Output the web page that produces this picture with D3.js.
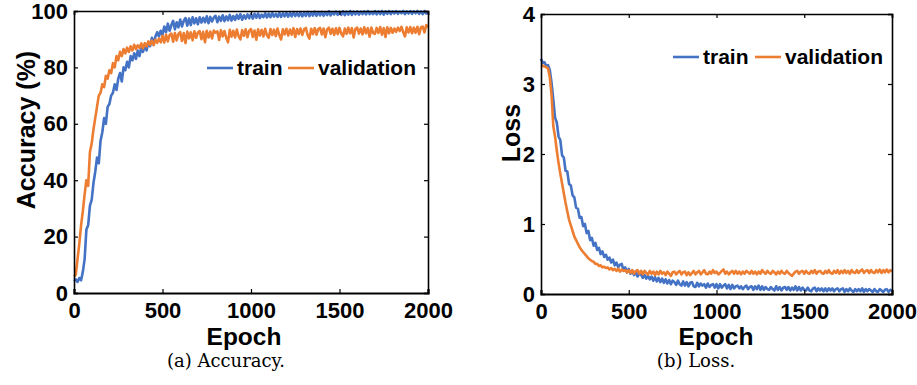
<!DOCTYPE html>
<html>
<head>
<meta charset="utf-8">
<script src="https://cdn.jsdelivr.net/npm/d3@7"></script>
<style>
  body { margin: 0; background: #fff; }
  svg text { font-family: "Liberation Sans", Arial, sans-serif; font-weight: bold; fill: #000; }
  svg text.caption { font-family: "DejaVu Serif", "Liberation Serif", serif; font-weight: normal; }
</style>
</head>
<body>
<div id="chart"></div>
<script>
// epochs 0..2000, one sample every 10 epochs
const epochs = d3.range(0, 2001, 10);

const accTrain = [
  4.2, 4.8, 3.9, 5.3, 4.5, 7.5, 12, 22.5, 24, 31,
  33, 39, 43, 48, 46, 54, 57, 62, 60, 66,
  67, 70, 71, 74, 72, 76, 78, 75, 80, 79,
  82, 80, 84, 82.5, 85, 83, 86, 84, 87, 85.5,
  88, 86, 89, 87.5, 90.5, 88, 91, 92.5, 91, 93,
  91.5, 94.5, 92.5, 95.5, 93, 95, 96.5, 93.5, 96, 94.2,
  97, 94.5, 96.5, 97.5, 94.8, 97.3, 95, 97.8, 95.6, 97.4,
  95.3, 97.8, 95.9, 97.6, 96, 98.1, 95.7, 97.9, 96.3, 97.7,
  98.3, 96, 98, 96.5, 98.5, 96.4, 98.1, 96.7, 98.6, 96.6,
  98.2, 96.8, 98.6, 97.2, 98.9, 96.9, 98.5, 97.3, 98.8, 97.4,
  98.9, 97.3, 99, 97.6, 99.1, 97.5, 98.7, 97.8, 99.2, 97.7,
  99.1, 97.8, 99.3, 98, 99, 97.9, 99.4, 97.9, 99.2, 98.1,
  99.5, 98, 99.3, 98.1, 99.6, 98.2, 99.3, 98.2, 99.5, 98.1,
  99.4, 98.3, 99.7, 98.2, 99.5, 98.4, 99.8, 98.3, 99.6, 98.4,
  99.7, 98.3, 99.6, 98.5, 99.9, 98.4, 99.6, 98.8, 99.8, 98.6,
  99.7, 98.6, 99.9, 98.5, 99.8, 98.7, 100, 98.6, 99.8, 98.8,
  99.9, 98.7, 99.8, 98.9, 99.9, 98.8, 100, 98.9, 99.7, 98.9,
  100, 98.8, 99.9, 98.9, 100, 98.7, 99.9, 99, 100, 98.9,
  99.9, 99.1, 100, 99, 99.8, 99.2, 100, 98.9, 99.9, 99.1,
  100, 99, 99.9, 99.2, 100, 99, 99.9, 98.9, 100, 99.1,
  99.6
];

const accVal = [
  5.8, 6.5, 12, 17.5, 24, 29, 35, 40, 38, 50,
  53, 58, 62, 66, 70, 71, 74, 73, 77, 76,
  79, 78, 81.5, 80, 84, 82.5, 85.5, 84, 86.5, 85,
  87, 85.5, 87.5, 86, 88, 86.5, 87.8, 87, 88.5, 86.8,
  88.6, 87.5, 89.2, 88, 89.5, 87.9, 89.8, 88.7, 90.2, 88.9,
  91.2, 88.8, 91.6, 89.2, 91.5, 92, 89.1, 92.2, 89.6, 91.9,
  92.5, 89.4, 92.2, 88.6, 92.7, 90.3, 92.4, 89.6, 92.8, 90.5,
  92.4, 92.9, 90, 92.6, 88.9, 93, 90.6, 92.7, 90.3, 93.1,
  92.3, 92.8, 89.7, 93.2, 91, 92.9, 90.5, 88.9, 93.3, 90.9,
  93, 90.6, 93.4, 91.1, 89.9, 93.2, 91.2, 93.5, 90.7, 93,
  93.6, 90.8, 93.1, 89.8, 93.5, 91.3, 93.3, 91, 93.7, 91.4,
  90.5, 93.6, 91.5, 93.4, 91.1, 93.8, 91.4, 89.9, 93.5, 91.7,
  93.7, 91.3, 93.4, 91.6, 93.9, 90.8, 93.6, 91.8, 93.8, 91.5,
  93.5, 94, 91.4, 90.2, 93.7, 91.8, 93.9, 91.6, 93.6, 94,
  91.7, 93.8, 90.7, 93.5, 94.1, 91.9, 93.7, 91.5, 93.9, 91.8,
  94, 92, 91, 93.8, 91.9, 94.1, 92.1, 93.9, 90.6, 93.7,
  94.1, 92, 93.8, 91.7, 94.2, 92.1, 93.9, 90.9, 94.1, 92.2,
  91.9, 94, 92.2, 94.3, 91.6, 93.9, 90.8, 94.2, 92.1, 94,
  92.3, 93.8, 92.6, 94.1, 92.9, 94.4, 92.5, 91, 94.2, 92.4,
  94.3, 92.1, 94.1, 92.3, 94.4, 91.8, 94.2, 94.5, 92.4, 95,
  94.3
];

const lossTrain = [
  3.36, 3.30, 3.31, 3.26, 3.27, 3.2, 3.02, 2.78, 2.52, 2.45,
  2.25, 2.2, 1.98, 1.95, 1.76, 1.75, 1.57, 1.55, 1.41, 1.38,
  1.23, 1.22, 1.09, 1.1, 0.97, 1.0, 0.87, 0.9, 0.77, 0.8,
  0.69, 0.73, 0.63, 0.66, 0.57, 0.61, 0.53, 0.56, 0.49, 0.52,
  0.45, 0.49, 0.41, 0.45, 0.38, 0.42, 0.43, 0.34, 0.38, 0.31,
  0.36, 0.29, 0.33, 0.27, 0.32, 0.25, 0.29, 0.28, 0.23, 0.27,
  0.22, 0.26, 0.21, 0.25, 0.19, 0.24, 0.18, 0.23, 0.17, 0.22,
  0.16, 0.21, 0.15, 0.2, 0.14, 0.19, 0.17, 0.13, 0.19, 0.14,
  0.12, 0.18, 0.12, 0.17, 0.11, 0.16, 0.17, 0.11, 0.1, 0.16,
  0.11, 0.15, 0.12, 0.14, 0.09, 0.15, 0.1, 0.13, 0.14, 0.09,
  0.14, 0.08, 0.14, 0.09, 0.12, 0.14, 0.08, 0.13, 0.07, 0.13,
  0.08, 0.11, 0.12, 0.08, 0.11, 0.07, 0.1, 0.12, 0.07, 0.1,
  0.11, 0.06, 0.11, 0.07, 0.12, 0.06, 0.11, 0.06, 0.1, 0.07,
  0.06, 0.1, 0.07, 0.05, 0.11, 0.06, 0.1, 0.05, 0.09, 0.1,
  0.06, 0.1, 0.05, 0.09, 0.06, 0.11, 0.05, 0.1, 0.05, 0.09,
  0.06, 0.05, 0.09, 0.05, 0.04, 0.08, 0.09, 0.04, 0.08, 0.05,
  0.08, 0.04, 0.08, 0.04, 0.08, 0.05, 0.08, 0.04, 0.07, 0.08,
  0.04, 0.07, 0.08, 0.03, 0.07, 0.04, 0.08, 0.05, 0.03, 0.07,
  0.04, 0.07, 0.04, 0.08, 0.03, 0.07, 0.04, 0.07, 0.05, 0.03,
  0.07, 0.04, 0.03, 0.07, 0.05, 0.03, 0.06, 0.07, 0.03, 0.06,
  0.05
];

const lossVal = [
  3.27, 3.26, 3.25, 3.24, 3.22, 3.1, 2.85, 2.4, 2.25, 2.05,
  1.87, 1.72, 1.58, 1.44, 1.3, 1.18, 1.06, 0.98, 0.9, 0.82,
  0.77, 0.72, 0.67, 0.63, 0.6, 0.57, 0.54, 0.51, 0.49, 0.47,
  0.46, 0.43, 0.43, 0.4, 0.41, 0.38, 0.39, 0.37, 0.38, 0.35,
  0.37, 0.34, 0.36, 0.33, 0.36, 0.32, 0.35, 0.33, 0.34, 0.31,
  0.34, 0.3, 0.34, 0.29, 0.33, 0.34, 0.29, 0.33, 0.28, 0.33,
  0.3, 0.28, 0.33, 0.29, 0.32, 0.27, 0.32, 0.28, 0.33, 0.29,
  0.31, 0.27, 0.32, 0.29, 0.26, 0.31, 0.32, 0.28, 0.31, 0.33,
  0.28, 0.31, 0.32, 0.27, 0.31, 0.27, 0.3, 0.33, 0.28, 0.31,
  0.33, 0.28, 0.31, 0.34, 0.29, 0.28, 0.32, 0.29, 0.34, 0.3,
  0.32, 0.28, 0.3, 0.33, 0.35, 0.29, 0.32, 0.28, 0.31, 0.33,
  0.29, 0.33, 0.29, 0.32, 0.28, 0.32, 0.29, 0.33, 0.31, 0.29,
  0.33, 0.29, 0.32, 0.28, 0.32, 0.29, 0.34, 0.31, 0.29, 0.33,
  0.3, 0.29, 0.33, 0.31, 0.28, 0.32, 0.29, 0.33, 0.3, 0.29,
  0.33, 0.3, 0.28, 0.26, 0.29, 0.32, 0.33, 0.29, 0.32, 0.33,
  0.29, 0.33, 0.3, 0.29, 0.33, 0.3, 0.34, 0.29, 0.32, 0.33,
  0.3, 0.29, 0.33, 0.3, 0.34, 0.3, 0.29, 0.33, 0.3, 0.34,
  0.29, 0.33, 0.3, 0.34, 0.3, 0.33, 0.29, 0.34, 0.31, 0.3,
  0.34, 0.3, 0.33, 0.35, 0.3, 0.33, 0.34, 0.3, 0.34, 0.31,
  0.3, 0.34, 0.31, 0.35, 0.3, 0.34, 0.31, 0.35, 0.31, 0.34,
  0.32
];

const xTicks = [0, 500, 1000, 1500, 2000];
const accTicks = [0, 20, 40, 60, 80, 100];
const lossTicks = [0, 1, 2, 3, 4];
const seriesNames = ["train", "validation"];
const colors = ["#4472C4", "#ED7D31"];

const svg = d3.select("#chart").append("svg")
  .attr("width", 917)
  .attr("height", 385);

function drawPanel(opts) {
  const x = d3.scaleLinear().domain([0, 2000]).range([opts.left, opts.right]);
  const y = d3.scaleLinear().domain(opts.yDomain).range([opts.bottom, opts.top]);
  const g = svg.append("g");

  // lines
  opts.series.forEach((vals, i) => {
    const line = d3.line()
      .x((d, j) => x(epochs[j]))
      .y(d => y(d));
    g.append("path")
      .datum(vals)
      .attr("fill", "none")
      .attr("stroke", colors[i])
      .attr("stroke-width", 2.6)
      .attr("stroke-linejoin", "round")
      .attr("d", line);
  });

  // axes, ticks pointing inward, mirrored on top and right
  const bottomAxis = g.append("g")
    .attr("transform", "translate(0," + opts.bottom + ")")
    .call(d3.axisBottom(x).tickValues(xTicks).tickSize(-4).tickPadding(9).tickFormat(d3.format("d")));
  const leftAxis = g.append("g")
    .attr("transform", "translate(" + opts.left + ",0)")
    .call(d3.axisLeft(y).tickValues(opts.yTicks).tickSize(-4).tickPadding(6).tickFormat(d3.format("d")));
  const topAxis = g.append("g")
    .attr("transform", "translate(0," + opts.top + ")")
    .call(d3.axisTop(x).tickValues(xTicks).tickSize(-4).tickFormat(""));
  const rightAxis = g.append("g")
    .attr("transform", "translate(" + opts.right + ",0)")
    .call(d3.axisRight(y).tickValues(opts.yTicks).tickSize(-4).tickFormat(""));

  [bottomAxis, leftAxis, topAxis, rightAxis].forEach(a => {
    a.select(".domain").attr("stroke", "#000").attr("stroke-width", 1.6);
    a.selectAll(".tick line").attr("stroke", "#000").attr("stroke-width", 1.2);
  });
  bottomAxis.select(".domain").attr("stroke-width", 2.2);
  bottomAxis.selectAll(".tick text").style("font-size", "22px").attr("dy", "0.71em");
  leftAxis.selectAll(".tick text").style("font-size", "22px");

  // axis labels
  g.append("text")
    .attr("x", opts.xLabelX)
    .attr("y", 345)
    .attr("text-anchor", "middle")
    .style("font-size", "24.5px")
    .text("Epoch");
  g.append("text")
    .attr("transform", "translate(" + opts.yLabelX + "," + opts.yLabelY + ") rotate(-90)")
    .attr("text-anchor", "middle")
    .style("font-size", "25px")
    .text(opts.yLabel);

  // legend
  seriesNames.forEach((name, i) => {
    const lx = opts.legendX[i];
    g.append("line")
      .attr("x1", lx).attr("x2", lx + 26)
      .attr("y1", opts.legendY).attr("y2", opts.legendY)
      .attr("stroke", colors[i])
      .attr("stroke-width", 2.6);
    g.append("text")
      .attr("x", lx + 30)
      .attr("y", opts.legendY + 7)
      .style("font-size", "21px")
      .text(name);
  });

  // caption
  g.append("text")
    .attr("class", "caption")
    .attr("x", opts.captionX)
    .attr("y", 367)
    .attr("text-anchor", "middle")
    .style("font-size", "18px")
    .text(opts.caption);
}

drawPanel({
  left: 74, right: 428, top: 11, bottom: 293,
  yDomain: [0, 100], yTicks: accTicks,
  series: [accTrain, accVal],
  yLabel: "Accuracy (%)", yLabelX: 35, yLabelY: 130, xLabelX: 244,
  legendX: [207, 288], legendY: 68,
  caption: "(a) Accuracy.", captionX: 226
});

drawPanel({
  left: 541, right: 892, top: 14, bottom: 294,
  yDomain: [0, 4], yTicks: lossTicks,
  series: [lossTrain, lossVal],
  yLabel: "Loss", yLabelX: 520, yLabelY: 133, xLabelX: 716,
  legendX: [673, 755], legendY: 57,
  caption: "(b) Loss.", captionX: 696
});
</script>
</body>
</html>
